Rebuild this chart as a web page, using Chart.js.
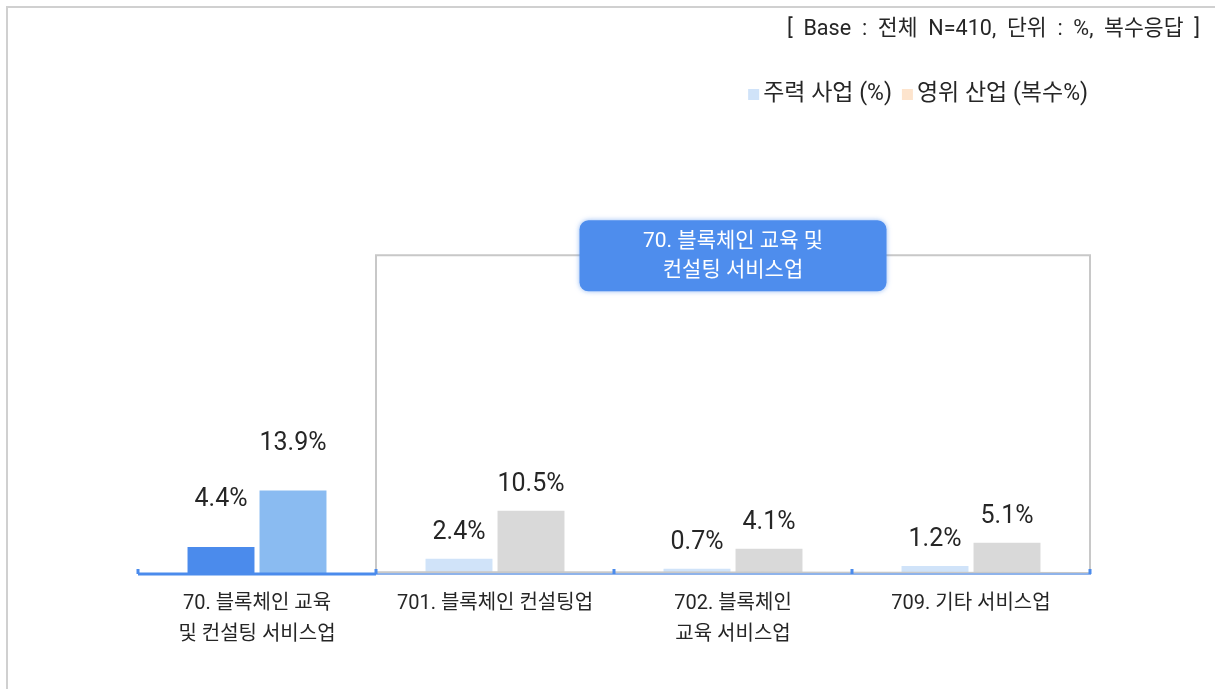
<!DOCTYPE html>
<html>
<head>
<meta charset="utf-8">
<script src="https://cdn.jsdelivr.net/npm/chart.js@4/dist/chart.umd.min.js"></script>
<style>
    html, body { margin: 0; padding: 0; background: #fff; }
    #wrap { width: 1215px; height: 689px; }
</style>
</head>
<body>
<div id="wrap"><canvas id="industry-chart" width="1215" height="689"></canvas></div>
<script>
const categories = [
    ['70. 블록체인 교육', '및 컨설팅 서비스업'],
    '701. 블록체인 컨설팅업',
    ['702. 블록체인', '교육 서비스업'],
    '709. 기타 서비스업'
];
const mainBusiness = [4.4, 2.4, 0.7, 1.2];
const allBusiness = [13.9, 10.5, 4.1, 5.1];
const seriesNames = ['주력 사업 (%)', '영위 산업 (복수%)'];
const headerText = '[  Base  :  전체  N=410,  단위  :  %,  복수응답  ]';
const groupTitle = ['70. 블록체인 교육 및', '컨설팅 서비스업'];

const FONT = "Roboto, 'Noto Sans CJK KR', sans-serif";
const TEXT = '#262626';
const BLUE = '#4b8bec';
const mainColors = [BLUE, '#d0e3f9', '#d0e3f9', '#d0e3f9'];
const allColors = ['#8abbf1', '#d9d9d9', '#d9d9d9', '#d9d9d9'];
const legendColors = ['#d0e3f9', '#fde4cd'];

Chart.defaults.font.family = FONT;
Chart.defaults.color = TEXT;

// frame, header and legend, drawn under the chart
const backdrop = {
    id: 'backdrop',
    beforeDraw(chart) {
        const ctx = chart.ctx;
        ctx.save();
        ctx.fillStyle = '#fff';
        ctx.fillRect(0, 0, chart.width, chart.height);

        ctx.strokeStyle = '#d0d0d0';
        ctx.lineWidth = 2;
        ctx.beginPath();
        ctx.moveTo(7, chart.height);
        ctx.lineTo(7, 7);
        ctx.lineTo(chart.width, 7);
        ctx.stroke();

        ctx.fillStyle = TEXT;
        ctx.textBaseline = 'middle';
        ctx.textAlign = 'right';
        ctx.font = `21.6px ${FONT}`;
        ctx.fillText(headerText, 1200, 30);

        // legend, right aligned
        ctx.font = `23px ${FONT}`;
        let x = 1088;
        for (let i = seriesNames.length - 1; i >= 0; i--) {
            const w = ctx.measureText(seriesNames[i]).width;
            ctx.fillStyle = TEXT;
            ctx.fillText(seriesNames[i], x, 94);
            x -= w + 4;
            ctx.fillStyle = legendColors[i];
            ctx.fillRect(x - 11, 89, 11, 11);
            x -= 11 + 10;
        }
        ctx.restore();
    }
};

// axis line, group bracket and value labels
const overlay = {
    id: 'overlay',
    afterDatasetsDraw(chart) {
        const ctx = chart.ctx;
        const area = chart.chartArea;
        const y = chart.scales.y;
        const step = (area.right - area.left) / categories.length;
        const split = area.left + step;
        const base = area.bottom;

        ctx.save();

        // bracket round the sub-industries
        const top = y.getPixelForValue(53.6);
        ctx.strokeStyle = '#c8c8c8';
        ctx.lineWidth = 2;
        ctx.beginPath();
        ctx.moveTo(split, base);
        ctx.lineTo(split, top);
        ctx.lineTo(area.right, top);
        ctx.lineTo(area.right, base);
        ctx.lineTo(split, base - 1);
        ctx.stroke();

        // axis
        ctx.fillStyle = '#8fb3ea';
        ctx.fillRect(split, base, area.right - split + 1, 2);
        ctx.fillStyle = BLUE;
        ctx.fillRect(area.left, base - 0.5, split - area.left, 3);
        for (let i = 0; i <= categories.length; i++) {
            ctx.fillRect(area.left + i * step - 1.5, base - 4, 3, 5);
        }

        // group title box
        const cx = (split + area.right) / 2;
        const bw = 307, bh = 71, by = top - 35;
        ctx.save();
        ctx.shadowColor = 'rgba(75,139,236,0.6)';
        ctx.shadowBlur = 5;
        ctx.fillStyle = '#4e8ded';
        ctx.beginPath();
        ctx.roundRect(cx - bw / 2, by, bw, bh, 9);
        ctx.fill();
        ctx.restore();
        ctx.fillStyle = '#fff';
        ctx.font = `21px ${FONT}`;
        ctx.textAlign = 'center';
        ctx.textBaseline = 'middle';
        ctx.fillText(groupTitle[0], cx, by + 21);
        ctx.fillText(groupTitle[1], cx, by + 50);

        // value labels
        ctx.fillStyle = TEXT;
        ctx.font = `25px ${FONT}`;
        chart.data.datasets.forEach((ds, di) => {
            chart.getDatasetMeta(di).data.forEach((bar, i) => {
                const lift = i === 0 ? 47 : 26;
                ctx.fillText(ds.data[i].toFixed(1) + '%', bar.x, bar.y - lift);
            });
        });
        ctx.restore();
    }
};

new Chart(document.getElementById('industry-chart'), {
    type: 'bar',
    data: {
        labels: categories,
        datasets: [
            { label: seriesNames[0], data: mainBusiness, backgroundColor: mainColors },
            { label: seriesNames[1], data: allBusiness, backgroundColor: allColors }
        ]
    },
    options: {
        responsive: false,
        animation: false,
        datasets: { bar: { categoryPercentage: 0.605, barPercentage: 0.93 } },
        layout: { padding: { left: 138, right: 125, top: 100, bottom: 24 } },
        plugins: {
            legend: { display: false },
            tooltip: { enabled: false }
        },
        scales: {
            x: {
                grid: { display: false, drawTicks: false },
                border: { display: false },
                ticks: {
                    font: { size: 20, lineHeight: 1.55 },
                    color: TEXT,
                    padding: 15,
                    maxRotation: 0,
                    autoSkip: false
                }
            },
            y: { display: false, min: 0, max: 79.8 }
        }
    },
    plugins: [backdrop, overlay]
});
</script>
</body>
</html>
